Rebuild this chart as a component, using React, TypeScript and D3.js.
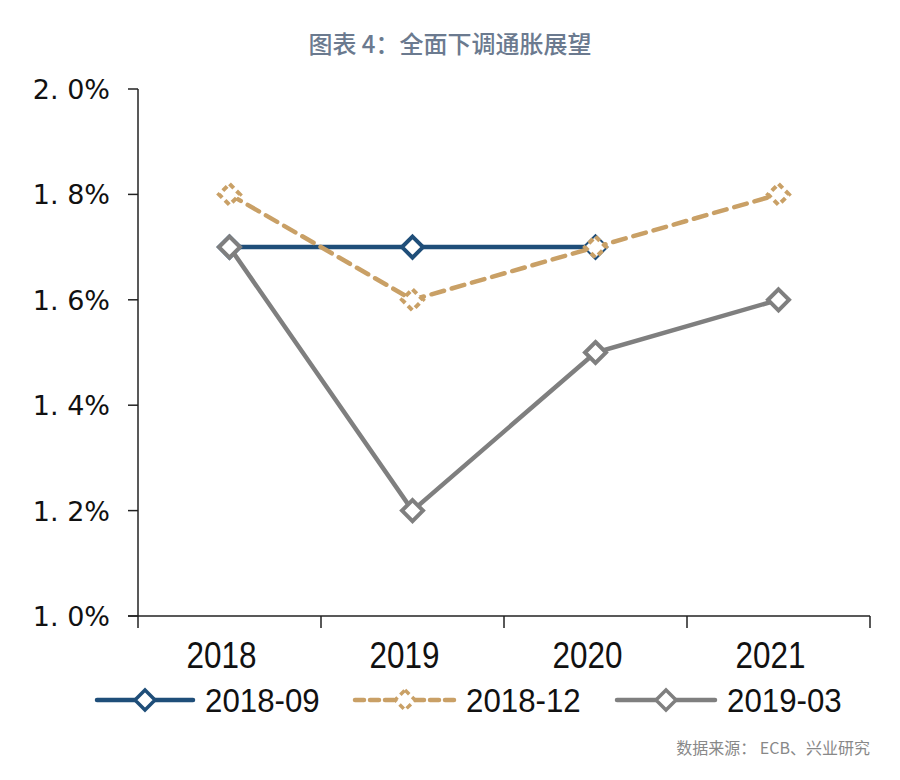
import React from "react";
import * as d3 from "d3";

const categories = ["2018", "2019", "2020", "2021"];
const seriesNames = ["2018-09", "2018-12", "2019-03"];
const values0918: (number | null)[] = [1.7, 1.7, 1.7, null];
const values1812: (number | null)[] = [1.8, 1.6, 1.7, 1.8];
const values1903: (number | null)[] = [1.7, 1.2, 1.5, 1.6];
const yTicks = [1.0, 1.2, 1.4, 1.6, 1.8, 2.0];
const colors = ["#1f4e79", "#c9a066", "#7f7f7f"];
const dashes = ["", "13 8", ""];

const W = 900, H = 780;
const left = 138, right = 870, top = 89, bottom = 616;
const narrow = "'Liberation Sans', Arial, sans-serif";

export default function App() {
  const x = d3.scaleBand<string>().domain(categories).range([left, right]).padding(0);
  const y = d3.scaleLinear().domain([1.0, 2.0]).range([bottom, top]);
  const cx = (c: string) => (x(c) as number) + x.bandwidth() / 2;
  const all = [values0918, values1812, values1903];
  const line = d3
    .line<number | null>()
    .defined((d) => d != null)
    .x((_, i) => cx(categories[i]))
    .y((d) => y(d as number));
  const diamond = (px: number, py: number, r: number) =>
    `M${px},${py - r}L${px + r},${py}L${px},${py + r}L${px - r},${py}Z`;

  const legendItems = [
    { x0: 97, x1: 193, tx: 205 },
    { x0: 355, x1: 455, tx: 466 },
    { x0: 617, x1: 715, tx: 727 },
  ];
  const ly = 700;

  return (
    <svg width={W} height={H} style={{ display: "block", position: "absolute", left: 0, top: 0, background: "#fff" }}>
      <rect width={W} height={H} fill="#fff" />
      <text x={450} y={53} textAnchor="middle" fontSize={24} fontWeight={500} fill="#6b7a8f" fontFamily="'Noto Sans CJK SC', sans-serif">
        图表 4：全面下调通胀展望
      </text>
      {/* axes */}
      <line x1={left} x2={left} y1={top} y2={bottom} stroke="#222" strokeWidth={1.5} />
      <line x1={left - 10} x2={right} y1={bottom} y2={bottom} stroke="#222" strokeWidth={1.5} />
      {yTicks.map((t) => (
        <g key={t}>
          <line x1={left - 10} x2={left} y1={y(t)} y2={y(t)} stroke="#222" strokeWidth={1.5} />
          <text x={110} y={y(t) + 10} textAnchor="end" fontSize={27} fill="#111" fontFamily="'DejaVu Sans', sans-serif">
            {t.toFixed(1).replace(".", ". ") + "%"}
          </text>
        </g>
      ))}
      {[...categories.map((c) => x(c) as number), right].map((v, i) => (
        <line key={i} x1={v} x2={v} y1={bottom} y2={bottom + 12} stroke="#222" strokeWidth={1.5} />
      ))}
      {categories.map((c) => (
        <text key={c} transform={`translate(${cx(c) - 8},668) scale(0.85,1)`} textAnchor="middle" fontSize={37} fill="#111" fontFamily={narrow}>
          {c}
        </text>
      ))}
      {/* series */}
      {all.map((vals, si) => (
        <g key={si}>
          <path d={line(vals) || ""} fill="none" stroke={colors[si]} strokeWidth={4.5} strokeDasharray={dashes[si] || undefined} strokeLinecap={si === 1 ? "round" : "butt"} />
          {vals.map((v, i) =>
            v == null ? null : (
              <path
                key={i}
                d={diamond(cx(categories[i]), y(v), 10.5)}
                fill="#fff"
                stroke={colors[si]}
                strokeWidth={4}
                strokeDasharray={si === 1 ? "6 4" : undefined}
              />
            )
          )}
        </g>
      ))}
      {/* legend */}
      {legendItems.map((it, si) => (
        <g key={si}>
          <line x1={it.x0} x2={it.x1} y1={ly} y2={ly} stroke={colors[si]} strokeWidth={4.5} strokeDasharray={si === 1 ? "9 6" : undefined} strokeLinecap="round" />
          <path d={diamond((it.x0 + it.x1) / 2, ly, 10)} fill="#fff" stroke={colors[si]} strokeWidth={3.5} strokeDasharray={si === 1 ? "6 4" : undefined} />
          <text transform={`translate(${it.tx},${ly + 12}) scale(0.92,1)`} fontSize={34} fill="#111" fontFamily={narrow}>
            {seriesNames[si]}
          </text>
        </g>
      ))}
      <text x={870} y={754} textAnchor="end" fontSize={16} fill="#888" fontFamily="'Noto Sans CJK SC', sans-serif">
        数据来源：  ECB、兴业研究
      </text>
    </svg>
  );
}
